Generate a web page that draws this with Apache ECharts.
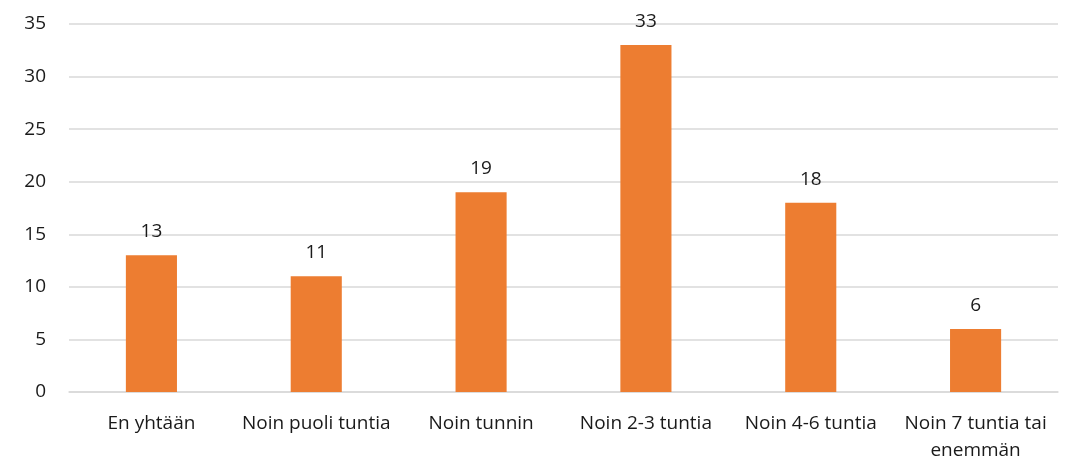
<!DOCTYPE html>
<html>
<head>
<meta charset="utf-8">
<script src="https://cdn.jsdelivr.net/npm/echarts@6/dist/echarts.min.js"></script>
<style>
  html, body { margin: 0; padding: 0; background: #fff; }
  #chart { width: 1071px; height: 459px; }
</style>
</head>
<body>
<div id="chart"></div>
<script>
// vastaukset
const categories = ['En yhtään', 'Noin puoli tuntia', 'Noin tunnin', 'Noin 2-3 tuntia', 'Noin 4-6 tuntia', 'Noin 7 tuntia tai\nenemmän'];
const values = [13, 11, 19, 33, 18, 6];
const yTicks = [0, 5, 10, 15, 20, 25, 30, 35];

const font = '"Open Sans", Lato, sans-serif';
const chart = echarts.init(document.getElementById('chart'));
chart.setOption({
    animation: false,
    textStyle: {fontFamily: font},
    grid: {left: 69, right: 13, top: 24, bottom: 67, outerBoundsMode: 'none'},
    xAxis: {
        type: 'category',
        data: categories,
        axisTick: {show: false},
        axisLine: {lineStyle: {color: '#d9d9d9', width: 1.5}},
        axisLabel: {
            interval: 0,
            color: '#1a1a1a',
            fontSize: 19,
            fontFamily: font,
            margin: 18,
            lineHeight: 27
        }
    },
    yAxis: {
        type: 'value',
        min: yTicks[0],
        max: yTicks[yTicks.length - 1],
        interval: 5,
        axisLine: {show: false},
        axisTick: {show: false},
        splitLine: {lineStyle: {color: '#d9d9d9', width: 1.5}},
        axisLabel: {color: '#1a1a1a', fontSize: 19, fontFamily: font, margin: 23}
    },
    series: [{
        type: 'bar',
        data: values,
        barWidth: '31%',
        itemStyle: {color: '#ed7d31'},
        label: {
            show: true,
            position: 'top',
            distance: 14,
            color: '#1a1a1a',
            fontSize: 19,
            fontFamily: font
        }
    }]
});
</script>
</body>
</html>
